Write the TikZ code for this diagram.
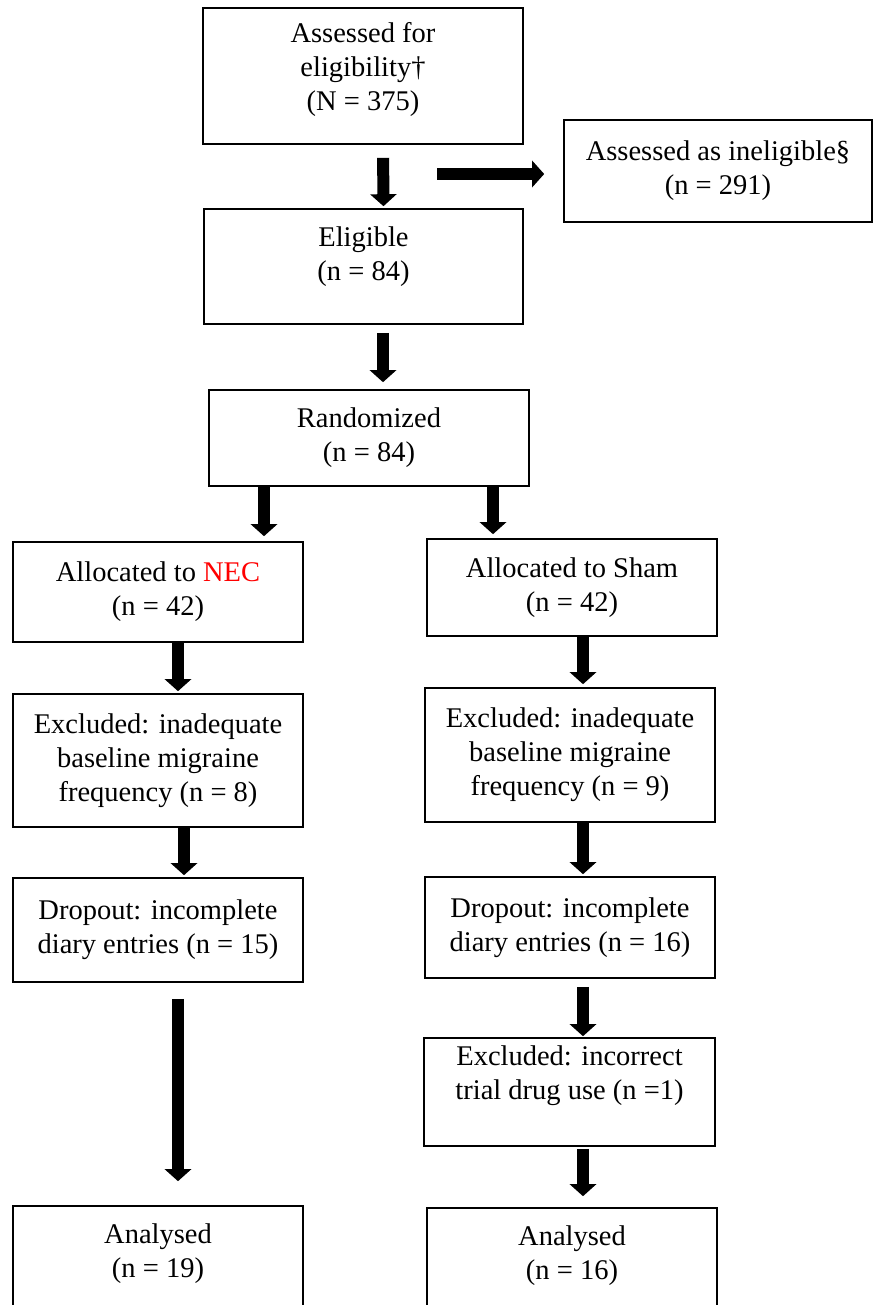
\documentclass[tikz,border=0pt]{standalone}
\usepackage{fontspec}
\setmainfont{Liberation Serif}
\usetikzlibrary{arrows.meta}
\tikzset{font=\fontsize{28.5}{34}\selectfont}

\begin{document}
\begin{tikzpicture}[x=1pt,y=-1pt,every node/.style={draw,line width=1.6pt,align=center,inner sep=0pt},
    blk/.style={line width=12pt,-{Triangle[width=26pt,length=12pt]}}]
      \useasboundingbox (0,0) rectangle (874,1305);

      \node[minimum width=320,minimum height=136] (assess) at (363,76) {Assessed for\\eligibility\textdagger\\(N = 375)\\[-15pt]\mbox{}};
      \node[minimum width=308,minimum height=102] (inelig) at (718,171) {Assessed as ineligible\S\\(n = 291)};
      \node[minimum width=319,minimum height=115] (elig) at (363.5,266.5) {Eligible\\(n = 84)\\[-9pt]\mbox{}};
      \node[minimum width=320,minimum height=96] (rand) at (369,438) {Randomized\\(n = 84)};

      \node[minimum width=290,minimum height=100] (nec) at (158,592) {Allocated to \textcolor{red}{NEC}\\(n = 42)};
      \node[minimum width=290,minimum height=133] (exl) at (158,760.5) {Excluded: inadequate\\baseline migraine\\frequency (n = 8)};
      \node[minimum width=290,minimum height=104] (dropl) at (158,930) {Dropout: incomplete\\diary entries (n = 15)};
      \node[minimum width=290,minimum height=120] (anal) at (158,1266) {Analysed\\(n = 19)\\[-3pt]\mbox{}};

      \node[minimum width=290,minimum height=97] (sham) at (572,587.5) {Allocated to Sham\\(n = 42)};
      \node[minimum width=290,minimum height=134] (exr) at (570,755) {Excluded: inadequate\\baseline migraine\\frequency (n = 9)};
      \node[minimum width=290,minimum height=101] (dropr) at (570,927.5) {Dropout: incomplete\\diary entries (n = 16)};
      \node[minimum width=291,minimum height=108] (incor) at (569.5,1092) {Excluded: incorrect\\trial drug use (n =1)\\[5pt]\mbox{}};
      \node[minimum width=290,minimum height=120] (anar) at (572,1268) {Analysed\\(n = 16)\\[-3pt]\mbox{}};

      \coordinate (hstart) at (437,174);

      \path [blk,shorten <=13pt,shorten >=2pt]([xshift=20]assess.south) edge ([xshift=20]elig.north);
      \path [blk,shorten >=19pt](hstart) edge (hstart -| inelig.west);
      \path [blk,shorten <=8pt,shorten >=7pt]([xshift=19.5]elig.south) edge ([xshift=14]rand.north);

      \path [blk,shorten >=5pt]([xshift=106]nec.north |- rand.south) edge ([xshift=106]nec.north);
      \path [blk,shorten >=4pt]([xshift=-79]sham.north |- rand.south) edge ([xshift=-79]sham.north);

      \path [blk,shorten >=2pt]([xshift=20]nec.south) edge ([xshift=20]exl.north);
      \path [blk,shorten >=2pt]([xshift=26]exl.south) edge ([xshift=26]dropl.north);
      \path [blk,shorten <=16pt,shorten >=24pt]([xshift=20]dropl.south) edge ([xshift=20]anal.north);

      \path [blk,shorten >=3pt]([xshift=11]sham.south) edge ([xshift=13]exr.north);
      \path [blk,shorten >=2pt]([xshift=13]exr.south) edge ([xshift=13]dropr.north);
      \path [blk,shorten <=8pt,shorten >=1pt]([xshift=13]dropr.south) edge ([xshift=13.5]incor.north);
      \path [blk,shorten <=2pt,shorten >=11pt]([xshift=13.5]incor.south) edge ([xshift=11]anar.north);
\end{tikzpicture}
\end{document}
